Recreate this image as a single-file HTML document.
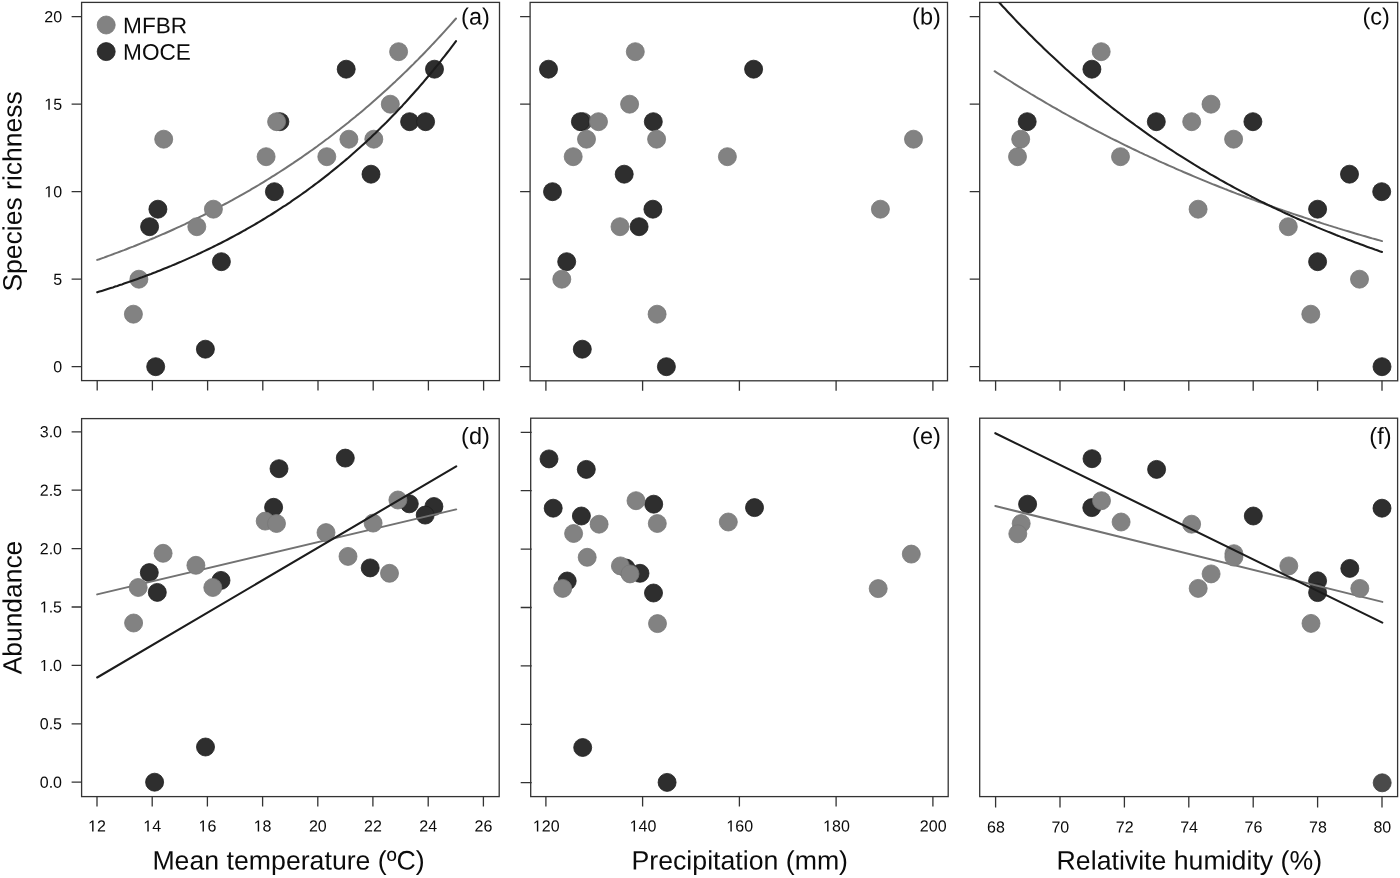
<!DOCTYPE html>
<html><head><meta charset="utf-8"><title>Figure</title>
<style>
html,body{margin:0;padding:0;background:#fff;}
body{width:1400px;height:878px;overflow:hidden;font-family:"Liberation Sans",sans-serif;}
svg{display:block;will-change:transform;}
</style></head><body>
<svg width="1400" height="878" viewBox="0 0 1400 878">
<rect width="1400" height="878" fill="#ffffff"/>
<rect x="81.6" y="2.4" width="417.9" height="378.2" fill="none" stroke="#333333" stroke-width="1.3"/>
<rect x="530.1" y="2.4" width="417.4" height="378.4" fill="none" stroke="#333333" stroke-width="1.3"/>
<rect x="979.7" y="2.4" width="418.0" height="378.4" fill="none" stroke="#333333" stroke-width="1.3"/>
<path d="M97.2 380.6v10M152.4 380.6v10M207.6 380.6v10M262.8 380.6v10M318.0 380.6v10M373.2 380.6v10M428.4 380.6v10M483.6 380.6v10" stroke="#333333" stroke-width="1.3" fill="none"/>
<path d="M545.9 380.8v10M642.6 380.8v10M739.4 380.8v10M836.1 380.8v10M932.9 380.8v10" stroke="#333333" stroke-width="1.3" fill="none"/>
<path d="M995.6 380.8v10M1060.0 380.8v10M1124.4 380.8v10M1188.8 380.8v10M1253.2 380.8v10M1317.6 380.8v10M1382.0 380.8v10" stroke="#333333" stroke-width="1.3" fill="none"/>
<rect x="81.6" y="418.6" width="417.6" height="378.0" fill="none" stroke="#333333" stroke-width="1.3"/>
<rect x="530.7" y="418.2" width="417.5" height="378.4" fill="none" stroke="#333333" stroke-width="1.3"/>
<rect x="979.7" y="418.2" width="417.9" height="378.4" fill="none" stroke="#333333" stroke-width="1.3"/>
<path d="M97.0 796.6v10M152.2 796.6v10M207.4 796.6v10M262.6 796.6v10M317.8 796.6v10M372.9 796.6v10M428.2 796.6v10M483.4 796.6v10" stroke="#333333" stroke-width="1.3" fill="none"/>
<path d="M545.9 796.6v10M642.6 796.6v10M739.4 796.6v10M836.1 796.6v10M932.9 796.6v10" stroke="#333333" stroke-width="1.3" fill="none"/>
<path d="M995.6 796.6v11M1060.0 796.6v11M1124.4 796.6v11M1188.8 796.6v11M1253.2 796.6v11M1317.6 796.6v11M1382.0 796.6v11" stroke="#333333" stroke-width="1.3" fill="none"/>
<path d="M81.6 366.7h-10M81.6 279.2h-10M81.6 191.7h-10M81.6 104.2h-10M81.6 16.7h-10" stroke="#333333" stroke-width="1.3" fill="none"/>
<path d="M530.1 366.7h-10M530.1 279.2h-10M530.1 191.7h-10M530.1 104.2h-10M530.1 16.7h-10" stroke="#333333" stroke-width="1.3" fill="none"/>
<path d="M979.7 366.7h-10M979.7 279.2h-10M979.7 191.7h-10M979.7 104.2h-10M979.7 16.7h-10" stroke="#333333" stroke-width="1.3" fill="none"/>
<path d="M81.6 782.2h-10M81.6 723.8h-10M81.6 665.4h-10M81.6 607.0h-10M81.6 548.6h-10M81.6 490.2h-10M81.6 431.8h-10" stroke="#333333" stroke-width="1.3" fill="none"/>
<path d="M531.7 782.7h-11.0M531.7 724.3h-11.0M531.7 665.9h-11.0M531.7 607.5h-11.0M531.7 549.1h-11.0M531.7 490.7h-11.0M531.7 432.3h-11.0" stroke="#333333" stroke-width="1.3" fill="none"/>
<text x="53.20" y="372.25" transform="rotate(0.03 53.2 372.2)" font-size="16.0" font-family="Liberation Sans, sans-serif" fill="#0b0b0b">0</text>
<text x="53.20" y="284.75" transform="rotate(0.03 53.2 284.8)" font-size="16.0" font-family="Liberation Sans, sans-serif" fill="#0b0b0b">5</text>
<path d="M515 0V1237L197 1010V1180L530 1409H696V0Z" transform="translate(44.30 197.25) scale(0.00781 -0.00781)" fill="#0b0b0b"/>
<text x="53.20" y="197.25" transform="rotate(0.03 53.2 197.2)" font-size="16.0" font-family="Liberation Sans, sans-serif" fill="#0b0b0b">0</text>
<path d="M515 0V1237L197 1010V1180L530 1409H696V0Z" transform="translate(44.30 109.75) scale(0.00781 -0.00781)" fill="#0b0b0b"/>
<text x="53.20" y="109.75" transform="rotate(0.03 53.2 109.7)" font-size="16.0" font-family="Liberation Sans, sans-serif" fill="#0b0b0b">5</text>
<text x="44.30" y="22.25" transform="rotate(0.03 44.3 22.2)" font-size="16.0" font-family="Liberation Sans, sans-serif" fill="#0b0b0b">2</text>
<text x="53.20" y="22.25" transform="rotate(0.03 53.2 22.2)" font-size="16.0" font-family="Liberation Sans, sans-serif" fill="#0b0b0b">0</text>
<text x="39.76" y="787.75" transform="rotate(0.03 39.8 787.8)" font-size="16.0" font-family="Liberation Sans, sans-serif" fill="#0b0b0b">0</text>
<text x="48.66" y="787.75" transform="rotate(0.03 48.7 787.8)" font-size="16.0" font-family="Liberation Sans, sans-serif" fill="#0b0b0b">.</text>
<text x="53.10" y="787.75" transform="rotate(0.03 53.1 787.8)" font-size="16.0" font-family="Liberation Sans, sans-serif" fill="#0b0b0b">0</text>
<text x="39.76" y="729.35" transform="rotate(0.03 39.8 729.4)" font-size="16.0" font-family="Liberation Sans, sans-serif" fill="#0b0b0b">0</text>
<text x="48.66" y="729.35" transform="rotate(0.03 48.7 729.4)" font-size="16.0" font-family="Liberation Sans, sans-serif" fill="#0b0b0b">.</text>
<text x="53.10" y="729.35" transform="rotate(0.03 53.1 729.4)" font-size="16.0" font-family="Liberation Sans, sans-serif" fill="#0b0b0b">5</text>
<path d="M515 0V1237L197 1010V1180L530 1409H696V0Z" transform="translate(39.76 670.95) scale(0.00781 -0.00781)" fill="#0b0b0b"/>
<text x="48.66" y="670.95" transform="rotate(0.03 48.7 671.0)" font-size="16.0" font-family="Liberation Sans, sans-serif" fill="#0b0b0b">.</text>
<text x="53.10" y="670.95" transform="rotate(0.03 53.1 671.0)" font-size="16.0" font-family="Liberation Sans, sans-serif" fill="#0b0b0b">0</text>
<path d="M515 0V1237L197 1010V1180L530 1409H696V0Z" transform="translate(39.76 612.55) scale(0.00781 -0.00781)" fill="#0b0b0b"/>
<text x="48.66" y="612.55" transform="rotate(0.03 48.7 612.5)" font-size="16.0" font-family="Liberation Sans, sans-serif" fill="#0b0b0b">.</text>
<text x="53.10" y="612.55" transform="rotate(0.03 53.1 612.5)" font-size="16.0" font-family="Liberation Sans, sans-serif" fill="#0b0b0b">5</text>
<text x="39.76" y="554.15" transform="rotate(0.03 39.8 554.1)" font-size="16.0" font-family="Liberation Sans, sans-serif" fill="#0b0b0b">2</text>
<text x="48.66" y="554.15" transform="rotate(0.03 48.7 554.1)" font-size="16.0" font-family="Liberation Sans, sans-serif" fill="#0b0b0b">.</text>
<text x="53.10" y="554.15" transform="rotate(0.03 53.1 554.1)" font-size="16.0" font-family="Liberation Sans, sans-serif" fill="#0b0b0b">0</text>
<text x="39.76" y="495.75" transform="rotate(0.03 39.8 495.8)" font-size="16.0" font-family="Liberation Sans, sans-serif" fill="#0b0b0b">2</text>
<text x="48.66" y="495.75" transform="rotate(0.03 48.7 495.8)" font-size="16.0" font-family="Liberation Sans, sans-serif" fill="#0b0b0b">.</text>
<text x="53.10" y="495.75" transform="rotate(0.03 53.1 495.8)" font-size="16.0" font-family="Liberation Sans, sans-serif" fill="#0b0b0b">5</text>
<text x="39.76" y="437.35" transform="rotate(0.03 39.8 437.4)" font-size="16.0" font-family="Liberation Sans, sans-serif" fill="#0b0b0b">3</text>
<text x="48.66" y="437.35" transform="rotate(0.03 48.7 437.4)" font-size="16.0" font-family="Liberation Sans, sans-serif" fill="#0b0b0b">.</text>
<text x="53.10" y="437.35" transform="rotate(0.03 53.1 437.4)" font-size="16.0" font-family="Liberation Sans, sans-serif" fill="#0b0b0b">0</text>
<path d="M515 0V1237L197 1010V1180L530 1409H696V0Z" transform="translate(88.10 831.60) scale(0.00781 -0.00781)" fill="#0b0b0b"/>
<text x="97.00" y="831.60" transform="rotate(0.03 97.0 831.6)" font-size="16.0" font-family="Liberation Sans, sans-serif" fill="#0b0b0b">2</text>
<path d="M515 0V1237L197 1010V1180L530 1409H696V0Z" transform="translate(143.30 831.60) scale(0.00781 -0.00781)" fill="#0b0b0b"/>
<text x="152.20" y="831.60" transform="rotate(0.03 152.2 831.6)" font-size="16.0" font-family="Liberation Sans, sans-serif" fill="#0b0b0b">4</text>
<path d="M515 0V1237L197 1010V1180L530 1409H696V0Z" transform="translate(198.50 831.60) scale(0.00781 -0.00781)" fill="#0b0b0b"/>
<text x="207.40" y="831.60" transform="rotate(0.03 207.4 831.6)" font-size="16.0" font-family="Liberation Sans, sans-serif" fill="#0b0b0b">6</text>
<path d="M515 0V1237L197 1010V1180L530 1409H696V0Z" transform="translate(253.70 831.60) scale(0.00781 -0.00781)" fill="#0b0b0b"/>
<text x="262.60" y="831.60" transform="rotate(0.03 262.6 831.6)" font-size="16.0" font-family="Liberation Sans, sans-serif" fill="#0b0b0b">8</text>
<text x="308.90" y="831.60" transform="rotate(0.03 308.9 831.6)" font-size="16.0" font-family="Liberation Sans, sans-serif" fill="#0b0b0b">2</text>
<text x="317.80" y="831.60" transform="rotate(0.03 317.8 831.6)" font-size="16.0" font-family="Liberation Sans, sans-serif" fill="#0b0b0b">0</text>
<text x="364.10" y="831.60" transform="rotate(0.03 364.1 831.6)" font-size="16.0" font-family="Liberation Sans, sans-serif" fill="#0b0b0b">2</text>
<text x="373.00" y="831.60" transform="rotate(0.03 373.0 831.6)" font-size="16.0" font-family="Liberation Sans, sans-serif" fill="#0b0b0b">2</text>
<text x="419.30" y="831.60" transform="rotate(0.03 419.3 831.6)" font-size="16.0" font-family="Liberation Sans, sans-serif" fill="#0b0b0b">2</text>
<text x="428.20" y="831.60" transform="rotate(0.03 428.2 831.6)" font-size="16.0" font-family="Liberation Sans, sans-serif" fill="#0b0b0b">4</text>
<text x="474.50" y="831.60" transform="rotate(0.03 474.5 831.6)" font-size="16.0" font-family="Liberation Sans, sans-serif" fill="#0b0b0b">2</text>
<text x="483.40" y="831.60" transform="rotate(0.03 483.4 831.6)" font-size="16.0" font-family="Liberation Sans, sans-serif" fill="#0b0b0b">6</text>
<path d="M515 0V1237L197 1010V1180L530 1409H696V0Z" transform="translate(532.85 831.60) scale(0.00781 -0.00781)" fill="#0b0b0b"/>
<text x="541.75" y="831.60" transform="rotate(0.03 541.8 831.6)" font-size="16.0" font-family="Liberation Sans, sans-serif" fill="#0b0b0b">2</text>
<text x="550.65" y="831.60" transform="rotate(0.03 550.6 831.6)" font-size="16.0" font-family="Liberation Sans, sans-serif" fill="#0b0b0b">0</text>
<path d="M515 0V1237L197 1010V1180L530 1409H696V0Z" transform="translate(629.60 831.60) scale(0.00781 -0.00781)" fill="#0b0b0b"/>
<text x="638.50" y="831.60" transform="rotate(0.03 638.5 831.6)" font-size="16.0" font-family="Liberation Sans, sans-serif" fill="#0b0b0b">4</text>
<text x="647.40" y="831.60" transform="rotate(0.03 647.4 831.6)" font-size="16.0" font-family="Liberation Sans, sans-serif" fill="#0b0b0b">0</text>
<path d="M515 0V1237L197 1010V1180L530 1409H696V0Z" transform="translate(726.35 831.60) scale(0.00781 -0.00781)" fill="#0b0b0b"/>
<text x="735.25" y="831.60" transform="rotate(0.03 735.3 831.6)" font-size="16.0" font-family="Liberation Sans, sans-serif" fill="#0b0b0b">6</text>
<text x="744.15" y="831.60" transform="rotate(0.03 744.1 831.6)" font-size="16.0" font-family="Liberation Sans, sans-serif" fill="#0b0b0b">0</text>
<path d="M515 0V1237L197 1010V1180L530 1409H696V0Z" transform="translate(823.10 831.60) scale(0.00781 -0.00781)" fill="#0b0b0b"/>
<text x="832.00" y="831.60" transform="rotate(0.03 832.0 831.6)" font-size="16.0" font-family="Liberation Sans, sans-serif" fill="#0b0b0b">8</text>
<text x="840.90" y="831.60" transform="rotate(0.03 840.9 831.6)" font-size="16.0" font-family="Liberation Sans, sans-serif" fill="#0b0b0b">0</text>
<text x="919.85" y="831.60" transform="rotate(0.03 919.9 831.6)" font-size="16.0" font-family="Liberation Sans, sans-serif" fill="#0b0b0b">2</text>
<text x="928.75" y="831.60" transform="rotate(0.03 928.8 831.6)" font-size="16.0" font-family="Liberation Sans, sans-serif" fill="#0b0b0b">0</text>
<text x="937.65" y="831.60" transform="rotate(0.03 937.6 831.6)" font-size="16.0" font-family="Liberation Sans, sans-serif" fill="#0b0b0b">0</text>
<text x="987.00" y="832.50" transform="rotate(0.03 987.0 832.5)" font-size="16.0" font-family="Liberation Sans, sans-serif" fill="#0b0b0b">6</text>
<text x="995.90" y="832.50" transform="rotate(0.03 995.9 832.5)" font-size="16.0" font-family="Liberation Sans, sans-serif" fill="#0b0b0b">8</text>
<text x="1051.40" y="832.50" transform="rotate(0.03 1051.4 832.5)" font-size="16.0" font-family="Liberation Sans, sans-serif" fill="#0b0b0b">7</text>
<text x="1060.30" y="832.50" transform="rotate(0.03 1060.3 832.5)" font-size="16.0" font-family="Liberation Sans, sans-serif" fill="#0b0b0b">0</text>
<text x="1115.80" y="832.50" transform="rotate(0.03 1115.8 832.5)" font-size="16.0" font-family="Liberation Sans, sans-serif" fill="#0b0b0b">7</text>
<text x="1124.70" y="832.50" transform="rotate(0.03 1124.7 832.5)" font-size="16.0" font-family="Liberation Sans, sans-serif" fill="#0b0b0b">2</text>
<text x="1180.20" y="832.50" transform="rotate(0.03 1180.2 832.5)" font-size="16.0" font-family="Liberation Sans, sans-serif" fill="#0b0b0b">7</text>
<text x="1189.10" y="832.50" transform="rotate(0.03 1189.1 832.5)" font-size="16.0" font-family="Liberation Sans, sans-serif" fill="#0b0b0b">4</text>
<text x="1244.60" y="832.50" transform="rotate(0.03 1244.6 832.5)" font-size="16.0" font-family="Liberation Sans, sans-serif" fill="#0b0b0b">7</text>
<text x="1253.50" y="832.50" transform="rotate(0.03 1253.5 832.5)" font-size="16.0" font-family="Liberation Sans, sans-serif" fill="#0b0b0b">6</text>
<text x="1309.00" y="832.50" transform="rotate(0.03 1309.0 832.5)" font-size="16.0" font-family="Liberation Sans, sans-serif" fill="#0b0b0b">7</text>
<text x="1317.90" y="832.50" transform="rotate(0.03 1317.9 832.5)" font-size="16.0" font-family="Liberation Sans, sans-serif" fill="#0b0b0b">8</text>
<text x="1373.40" y="832.50" transform="rotate(0.03 1373.4 832.5)" font-size="16.0" font-family="Liberation Sans, sans-serif" fill="#0b0b0b">8</text>
<text x="1382.30" y="832.50" transform="rotate(0.03 1382.3 832.5)" font-size="16.0" font-family="Liberation Sans, sans-serif" fill="#0b0b0b">0</text>
<circle cx="149.6" cy="226.7" r="9.0" fill="#2e2e2e" stroke="#1f1f1f" stroke-width="0.8"/>
<circle cx="155.7" cy="366.7" r="9.0" fill="#2e2e2e" stroke="#1f1f1f" stroke-width="0.8"/>
<circle cx="157.9" cy="209.2" r="9.0" fill="#2e2e2e" stroke="#1f1f1f" stroke-width="0.8"/>
<circle cx="205.4" cy="349.2" r="9.0" fill="#2e2e2e" stroke="#1f1f1f" stroke-width="0.8"/>
<circle cx="221.4" cy="261.7" r="9.0" fill="#2e2e2e" stroke="#1f1f1f" stroke-width="0.8"/>
<circle cx="274.4" cy="191.7" r="9.0" fill="#2e2e2e" stroke="#1f1f1f" stroke-width="0.8"/>
<circle cx="279.9" cy="121.7" r="9.0" fill="#2e2e2e" stroke="#1f1f1f" stroke-width="0.8"/>
<circle cx="346.2" cy="69.2" r="9.0" fill="#2e2e2e" stroke="#1f1f1f" stroke-width="0.8"/>
<circle cx="371.0" cy="174.2" r="9.0" fill="#2e2e2e" stroke="#1f1f1f" stroke-width="0.8"/>
<circle cx="409.6" cy="121.7" r="9.0" fill="#2e2e2e" stroke="#1f1f1f" stroke-width="0.8"/>
<circle cx="425.6" cy="121.7" r="9.0" fill="#2e2e2e" stroke="#1f1f1f" stroke-width="0.8"/>
<circle cx="434.5" cy="69.2" r="9.0" fill="#2e2e2e" stroke="#1f1f1f" stroke-width="0.8"/>
<path d="M97.2 259.9 L99.4 259.2 L101.7 258.4 L103.9 257.6 L106.2 256.7 L108.4 255.9 L110.7 255.1 L112.9 254.3 L115.1 253.4 L117.4 252.6 L119.6 251.8 L121.9 250.9 L124.1 250.1 L126.4 249.2 L128.6 248.3 L130.8 247.4 L133.1 246.6 L135.3 245.7 L137.6 244.8 L139.8 243.9 L142.1 242.9 L144.3 242.0 L146.5 241.1 L148.8 240.2 L151.0 239.2 L153.3 238.3 L155.5 237.3 L157.7 236.4 L160.0 235.4 L162.2 234.4 L164.5 233.5 L166.7 232.5 L169.0 231.5 L171.2 230.5 L173.4 229.5 L175.7 228.4 L177.9 227.4 L180.2 226.4 L182.4 225.3 L184.7 224.3 L186.9 223.2 L189.1 222.2 L191.4 221.1 L193.6 220.0 L195.9 218.9 L198.1 217.8 L200.4 216.7 L202.6 215.6 L204.8 214.5 L207.1 213.4 L209.3 212.2 L211.6 211.1 L213.8 209.9 L216.1 208.8 L218.3 207.6 L220.5 206.4 L222.8 205.2 L225.0 204.0 L227.3 202.8 L229.5 201.6 L231.8 200.4 L234.0 199.1 L236.2 197.9 L238.5 196.7 L240.7 195.4 L243.0 194.1 L245.2 192.8 L247.4 191.6 L249.7 190.3 L251.9 188.9 L254.2 187.6 L256.4 186.3 L258.7 185.0 L260.9 183.6 L263.1 182.3 L265.4 180.9 L267.6 179.5 L269.9 178.1 L272.1 176.7 L274.4 175.3 L276.6 173.9 L278.8 172.5 L281.1 171.0 L283.3 169.6 L285.6 168.1 L287.8 166.6 L290.1 165.1 L292.3 163.7 L294.5 162.1 L296.8 160.6 L299.0 159.1 L301.3 157.6 L303.5 156.0 L305.8 154.4 L308.0 152.9 L310.2 151.3 L312.5 149.7 L314.7 148.1 L317.0 146.5 L319.2 144.8 L321.4 143.2 L323.7 141.5 L325.9 139.8 L328.2 138.2 L330.4 136.5 L332.7 134.8 L334.9 133.0 L337.1 131.3 L339.4 129.6 L341.6 127.8 L343.9 126.0 L346.1 124.2 L348.4 122.5 L350.6 120.6 L352.8 118.8 L355.1 117.0 L357.3 115.1 L359.6 113.3 L361.8 111.4 L364.1 109.5 L366.3 107.6 L368.5 105.7 L370.8 103.7 L373.0 101.8 L375.3 99.8 L377.5 97.8 L379.8 95.8 L382.0 93.8 L384.2 91.8 L386.5 89.8 L388.7 87.7 L391.0 85.6 L393.2 83.5 L395.5 81.4 L397.7 79.3 L399.9 77.2 L402.2 75.0 L404.4 72.9 L406.7 70.7 L408.9 68.5 L411.1 66.3 L413.4 64.1 L415.6 61.8 L417.9 59.6 L420.1 57.3 L422.4 55.0 L424.6 52.7 L426.8 50.4 L429.1 48.0 L431.3 45.6 L433.6 43.3 L435.8 40.9 L438.1 38.4 L440.3 36.0 L442.5 33.6 L444.8 31.1 L447.0 28.6 L449.3 26.1 L451.5 23.6 L453.8 21.0 L456.0 18.5" fill="none" stroke="#727272" stroke-width="2.0" stroke-linecap="round" stroke-linejoin="round"/>
<circle cx="133.4" cy="314.2" r="9.0" fill="#828282" stroke="#777777" stroke-width="0.8"/>
<circle cx="138.9" cy="279.2" r="9.0" fill="#828282" stroke="#777777" stroke-width="0.8"/>
<circle cx="163.7" cy="139.2" r="9.0" fill="#828282" stroke="#777777" stroke-width="0.8"/>
<circle cx="196.8" cy="226.7" r="9.0" fill="#828282" stroke="#777777" stroke-width="0.8"/>
<circle cx="213.4" cy="209.2" r="9.0" fill="#828282" stroke="#777777" stroke-width="0.8"/>
<circle cx="266.1" cy="156.7" r="9.0" fill="#828282" stroke="#777777" stroke-width="0.8"/>
<circle cx="276.6" cy="121.7" r="9.0" fill="#828282" stroke="#777777" stroke-width="0.8"/>
<circle cx="326.8" cy="156.7" r="9.0" fill="#828282" stroke="#777777" stroke-width="0.8"/>
<circle cx="348.9" cy="139.2" r="9.0" fill="#828282" stroke="#777777" stroke-width="0.8"/>
<circle cx="373.8" cy="139.2" r="9.0" fill="#828282" stroke="#777777" stroke-width="0.8"/>
<circle cx="390.3" cy="104.2" r="9.0" fill="#828282" stroke="#777777" stroke-width="0.8"/>
<circle cx="398.6" cy="51.7" r="9.0" fill="#828282" stroke="#777777" stroke-width="0.8"/>
<path d="M97.2 292.3 L99.4 291.6 L101.7 290.9 L103.9 290.2 L106.2 289.5 L108.4 288.8 L110.7 288.1 L112.9 287.4 L115.1 286.6 L117.4 285.9 L119.6 285.1 L121.9 284.4 L124.1 283.6 L126.4 282.8 L128.6 282.1 L130.8 281.3 L133.1 280.5 L135.3 279.7 L137.6 278.9 L139.8 278.1 L142.1 277.3 L144.3 276.4 L146.5 275.6 L148.8 274.7 L151.0 273.9 L153.3 273.0 L155.5 272.2 L157.7 271.3 L160.0 270.4 L162.2 269.5 L164.5 268.6 L166.7 267.7 L169.0 266.8 L171.2 265.9 L173.4 264.9 L175.7 264.0 L177.9 263.0 L180.2 262.1 L182.4 261.1 L184.7 260.1 L186.9 259.1 L189.1 258.1 L191.4 257.1 L193.6 256.1 L195.9 255.1 L198.1 254.0 L200.4 253.0 L202.6 251.9 L204.8 250.9 L207.1 249.8 L209.3 248.7 L211.6 247.6 L213.8 246.5 L216.1 245.4 L218.3 244.3 L220.5 243.2 L222.8 242.0 L225.0 240.9 L227.3 239.7 L229.5 238.5 L231.8 237.3 L234.0 236.1 L236.2 234.9 L238.5 233.7 L240.7 232.5 L243.0 231.2 L245.2 230.0 L247.4 228.7 L249.7 227.4 L251.9 226.1 L254.2 224.8 L256.4 223.5 L258.7 222.2 L260.9 220.8 L263.1 219.5 L265.4 218.1 L267.6 216.7 L269.9 215.4 L272.1 214.0 L274.4 212.5 L276.6 211.1 L278.8 209.7 L281.1 208.2 L283.3 206.7 L285.6 205.3 L287.8 203.8 L290.1 202.3 L292.3 200.7 L294.5 199.2 L296.8 197.6 L299.0 196.1 L301.3 194.5 L303.5 192.9 L305.8 191.3 L308.0 189.7 L310.2 188.0 L312.5 186.4 L314.7 184.7 L317.0 183.0 L319.2 181.3 L321.4 179.6 L323.7 177.8 L325.9 176.1 L328.2 174.3 L330.4 172.5 L332.7 170.7 L334.9 168.9 L337.1 167.1 L339.4 165.2 L341.6 163.4 L343.9 161.5 L346.1 159.6 L348.4 157.7 L350.6 155.7 L352.8 153.8 L355.1 151.8 L357.3 149.8 L359.6 147.8 L361.8 145.8 L364.1 143.7 L366.3 141.7 L368.5 139.6 L370.8 137.5 L373.0 135.3 L375.3 133.2 L377.5 131.0 L379.8 128.8 L382.0 126.6 L384.2 124.4 L386.5 122.2 L388.7 119.9 L391.0 117.6 L393.2 115.3 L395.5 113.0 L397.7 110.6 L399.9 108.3 L402.2 105.9 L404.4 103.4 L406.7 101.0 L408.9 98.5 L411.1 96.0 L413.4 93.5 L415.6 91.0 L417.9 88.5 L420.1 85.9 L422.4 83.3 L424.6 80.6 L426.8 78.0 L429.1 75.3 L431.3 72.6 L433.6 69.9 L435.8 67.1 L438.1 64.4 L440.3 61.6 L442.5 58.7 L444.8 55.9 L447.0 53.0 L449.3 50.1 L451.5 47.2 L453.8 44.2 L456.0 41.2" fill="none" stroke="#1c1c1c" stroke-width="2.1" stroke-linecap="round" stroke-linejoin="round"/>
<circle cx="548.5" cy="69.2" r="9.0" fill="#2e2e2e" stroke="#1f1f1f" stroke-width="0.8"/>
<circle cx="753.6" cy="69.2" r="9.0" fill="#2e2e2e" stroke="#1f1f1f" stroke-width="0.8"/>
<circle cx="583.0" cy="121.7" r="9.0" fill="#4a4a4a" stroke="#3e3e3e" stroke-width="0.8"/>
<circle cx="580.4" cy="121.7" r="9.0" fill="#2e2e2e" stroke="#1f1f1f" stroke-width="0.8"/>
<circle cx="653.3" cy="121.7" r="9.0" fill="#2e2e2e" stroke="#1f1f1f" stroke-width="0.8"/>
<circle cx="624.2" cy="174.2" r="9.0" fill="#2e2e2e" stroke="#1f1f1f" stroke-width="0.8"/>
<circle cx="552.5" cy="191.7" r="9.0" fill="#2e2e2e" stroke="#1f1f1f" stroke-width="0.8"/>
<circle cx="652.9" cy="209.2" r="9.0" fill="#2e2e2e" stroke="#1f1f1f" stroke-width="0.8"/>
<circle cx="639.1" cy="226.7" r="9.0" fill="#2e2e2e" stroke="#1f1f1f" stroke-width="0.8"/>
<circle cx="566.7" cy="261.7" r="9.0" fill="#2e2e2e" stroke="#1f1f1f" stroke-width="0.8"/>
<circle cx="582.3" cy="349.2" r="9.0" fill="#2e2e2e" stroke="#1f1f1f" stroke-width="0.8"/>
<circle cx="666.4" cy="366.7" r="9.0" fill="#2e2e2e" stroke="#1f1f1f" stroke-width="0.8"/>
<circle cx="635.3" cy="51.7" r="9.0" fill="#828282" stroke="#777777" stroke-width="0.8"/>
<circle cx="629.6" cy="104.2" r="9.0" fill="#828282" stroke="#777777" stroke-width="0.8"/>
<circle cx="598.5" cy="121.7" r="9.0" fill="#828282" stroke="#777777" stroke-width="0.8"/>
<circle cx="586.5" cy="139.2" r="9.0" fill="#828282" stroke="#777777" stroke-width="0.8"/>
<circle cx="656.6" cy="139.2" r="9.0" fill="#828282" stroke="#777777" stroke-width="0.8"/>
<circle cx="913.5" cy="139.2" r="9.0" fill="#828282" stroke="#777777" stroke-width="0.8"/>
<circle cx="573.2" cy="156.7" r="9.0" fill="#828282" stroke="#777777" stroke-width="0.8"/>
<circle cx="727.4" cy="156.7" r="9.0" fill="#828282" stroke="#777777" stroke-width="0.8"/>
<circle cx="880.4" cy="209.2" r="9.0" fill="#828282" stroke="#777777" stroke-width="0.8"/>
<circle cx="620.0" cy="226.7" r="9.0" fill="#828282" stroke="#777777" stroke-width="0.8"/>
<circle cx="561.8" cy="279.2" r="9.0" fill="#828282" stroke="#777777" stroke-width="0.8"/>
<circle cx="657.1" cy="314.2" r="9.0" fill="#828282" stroke="#777777" stroke-width="0.8"/>
<circle cx="1091.9" cy="69.2" r="9.0" fill="#2e2e2e" stroke="#1f1f1f" stroke-width="0.8"/>
<circle cx="1027.2" cy="121.7" r="9.0" fill="#2e2e2e" stroke="#1f1f1f" stroke-width="0.8"/>
<circle cx="1156.3" cy="121.7" r="9.0" fill="#2e2e2e" stroke="#1f1f1f" stroke-width="0.8"/>
<circle cx="1252.9" cy="121.7" r="9.0" fill="#2e2e2e" stroke="#1f1f1f" stroke-width="0.8"/>
<circle cx="1349.5" cy="174.2" r="9.0" fill="#2e2e2e" stroke="#1f1f1f" stroke-width="0.8"/>
<circle cx="1381.7" cy="191.7" r="9.0" fill="#2e2e2e" stroke="#1f1f1f" stroke-width="0.8"/>
<circle cx="1317.6" cy="209.2" r="9.0" fill="#2e2e2e" stroke="#1f1f1f" stroke-width="0.8"/>
<circle cx="1317.6" cy="261.7" r="9.0" fill="#2e2e2e" stroke="#1f1f1f" stroke-width="0.8"/>
<circle cx="1382.0" cy="366.7" r="9.0" fill="#2e2e2e" stroke="#1f1f1f" stroke-width="0.8"/>
<path d="M994.6 71.2 L997.1 72.8 L999.5 74.3 L1001.9 75.9 L1004.3 77.4 L1006.7 79.0 L1009.2 80.5 L1011.6 82.0 L1014.0 83.6 L1016.4 85.1 L1018.8 86.6 L1021.3 88.1 L1023.7 89.6 L1026.1 91.0 L1028.5 92.5 L1030.9 94.0 L1033.4 95.4 L1035.8 96.9 L1038.2 98.3 L1040.6 99.7 L1043.1 101.2 L1045.5 102.6 L1047.9 104.0 L1050.3 105.4 L1052.7 106.8 L1055.2 108.2 L1057.6 109.5 L1060.0 110.9 L1062.4 112.3 L1064.8 113.6 L1067.3 115.0 L1069.7 116.3 L1072.1 117.7 L1074.5 119.0 L1076.9 120.3 L1079.4 121.6 L1081.8 122.9 L1084.2 124.2 L1086.6 125.5 L1089.1 126.8 L1091.5 128.1 L1093.9 129.4 L1096.3 130.6 L1098.7 131.9 L1101.2 133.1 L1103.6 134.4 L1106.0 135.6 L1108.4 136.8 L1110.8 138.1 L1113.3 139.3 L1115.7 140.5 L1118.1 141.7 L1120.5 142.9 L1122.9 144.1 L1125.4 145.3 L1127.8 146.5 L1130.2 147.6 L1132.6 148.8 L1135.1 150.0 L1137.5 151.1 L1139.9 152.3 L1142.3 153.4 L1144.7 154.6 L1147.2 155.7 L1149.6 156.8 L1152.0 157.9 L1154.4 159.0 L1156.8 160.2 L1159.3 161.3 L1161.7 162.4 L1164.1 163.4 L1166.5 164.5 L1168.9 165.6 L1171.4 166.7 L1173.8 167.7 L1176.2 168.8 L1178.6 169.9 L1181.1 170.9 L1183.5 172.0 L1185.9 173.0 L1188.3 174.0 L1190.7 175.0 L1193.2 176.1 L1195.6 177.1 L1198.0 178.1 L1200.4 179.1 L1202.8 180.1 L1205.3 181.1 L1207.7 182.1 L1210.1 183.1 L1212.5 184.1 L1214.9 185.0 L1217.4 186.0 L1219.8 187.0 L1222.2 187.9 L1224.6 188.9 L1227.1 189.8 L1229.5 190.8 L1231.9 191.7 L1234.3 192.6 L1236.7 193.6 L1239.2 194.5 L1241.6 195.4 L1244.0 196.3 L1246.4 197.2 L1248.8 198.1 L1251.3 199.0 L1253.7 199.9 L1256.1 200.8 L1258.5 201.7 L1260.9 202.6 L1263.4 203.4 L1265.8 204.3 L1268.2 205.2 L1270.6 206.0 L1273.1 206.9 L1275.5 207.8 L1277.9 208.6 L1280.3 209.4 L1282.7 210.3 L1285.2 211.1 L1287.6 211.9 L1290.0 212.8 L1292.4 213.6 L1294.8 214.4 L1297.3 215.2 L1299.7 216.0 L1302.1 216.8 L1304.5 217.6 L1306.9 218.4 L1309.4 219.2 L1311.8 220.0 L1314.2 220.8 L1316.6 221.6 L1319.1 222.3 L1321.5 223.1 L1323.9 223.9 L1326.3 224.6 L1328.7 225.4 L1331.2 226.1 L1333.6 226.9 L1336.0 227.6 L1338.4 228.4 L1340.8 229.1 L1343.3 229.9 L1345.7 230.6 L1348.1 231.3 L1350.5 232.0 L1352.9 232.7 L1355.4 233.5 L1357.8 234.2 L1360.2 234.9 L1362.6 235.6 L1365.1 236.3 L1367.5 237.0 L1369.9 237.7 L1372.3 238.4 L1374.7 239.0 L1377.2 239.7 L1379.6 240.4 L1382.0 241.1" fill="none" stroke="#727272" stroke-width="2.0" stroke-linecap="round" stroke-linejoin="round"/>
<circle cx="1101.2" cy="51.7" r="9.0" fill="#828282" stroke="#777777" stroke-width="0.8"/>
<circle cx="1020.7" cy="139.2" r="9.0" fill="#828282" stroke="#777777" stroke-width="0.8"/>
<circle cx="1017.5" cy="156.7" r="9.0" fill="#828282" stroke="#777777" stroke-width="0.8"/>
<circle cx="1120.5" cy="156.7" r="9.0" fill="#828282" stroke="#777777" stroke-width="0.8"/>
<circle cx="1191.7" cy="121.7" r="9.0" fill="#828282" stroke="#777777" stroke-width="0.8"/>
<circle cx="1211.0" cy="104.2" r="9.0" fill="#828282" stroke="#777777" stroke-width="0.8"/>
<circle cx="1233.6" cy="139.2" r="9.0" fill="#828282" stroke="#777777" stroke-width="0.8"/>
<circle cx="1198.1" cy="209.2" r="9.0" fill="#828282" stroke="#777777" stroke-width="0.8"/>
<circle cx="1288.3" cy="226.7" r="9.0" fill="#828282" stroke="#777777" stroke-width="0.8"/>
<circle cx="1359.5" cy="279.2" r="9.0" fill="#828282" stroke="#777777" stroke-width="0.8"/>
<circle cx="1310.8" cy="314.2" r="9.0" fill="#828282" stroke="#777777" stroke-width="0.8"/>
<clipPath id="cc"><rect x="979.8" y="2.4" width="417.9" height="378.3"/></clipPath>
<path d="M995.6 -1.5 L998.0 1.2 L1000.4 3.8 L1002.8 6.5 L1005.3 9.1 L1007.7 11.7 L1010.1 14.3 L1012.5 16.8 L1014.9 19.4 L1017.3 21.9 L1019.8 24.4 L1022.2 26.9 L1024.6 29.3 L1027.0 31.8 L1029.4 34.2 L1031.8 36.6 L1034.2 39.0 L1036.7 41.4 L1039.1 43.8 L1041.5 46.1 L1043.9 48.5 L1046.3 50.8 L1048.7 53.1 L1051.1 55.3 L1053.6 57.6 L1056.0 59.8 L1058.4 62.1 L1060.8 64.3 L1063.2 66.5 L1065.6 68.7 L1068.0 70.8 L1070.5 73.0 L1072.9 75.1 L1075.3 77.2 L1077.7 79.3 L1080.1 81.4 L1082.5 83.5 L1085.0 85.5 L1087.4 87.6 L1089.8 89.6 L1092.2 91.6 L1094.6 93.6 L1097.0 95.6 L1099.4 97.6 L1101.9 99.5 L1104.3 101.5 L1106.7 103.4 L1109.1 105.3 L1111.5 107.2 L1113.9 109.1 L1116.4 111.0 L1118.8 112.8 L1121.2 114.7 L1123.6 116.5 L1126.0 118.3 L1128.4 120.1 L1130.8 121.9 L1133.3 123.7 L1135.7 125.5 L1138.1 127.2 L1140.5 128.9 L1142.9 130.7 L1145.3 132.4 L1147.7 134.1 L1150.2 135.8 L1152.6 137.5 L1155.0 139.1 L1157.4 140.8 L1159.8 142.4 L1162.2 144.0 L1164.7 145.7 L1167.1 147.3 L1169.5 148.9 L1171.9 150.4 L1174.3 152.0 L1176.7 153.6 L1179.1 155.1 L1181.6 156.7 L1184.0 158.2 L1186.4 159.7 L1188.8 161.2 L1191.2 162.7 L1193.6 164.2 L1196.0 165.6 L1198.5 167.1 L1200.9 168.6 L1203.3 170.0 L1205.7 171.4 L1208.1 172.8 L1210.5 174.3 L1213.0 175.7 L1215.4 177.0 L1217.8 178.4 L1220.2 179.8 L1222.6 181.1 L1225.0 182.5 L1227.4 183.8 L1229.9 185.2 L1232.3 186.5 L1234.7 187.8 L1237.1 189.1 L1239.5 190.4 L1241.9 191.7 L1244.3 192.9 L1246.8 194.2 L1249.2 195.4 L1251.6 196.7 L1254.0 197.9 L1256.4 199.1 L1258.8 200.4 L1261.2 201.6 L1263.7 202.8 L1266.1 204.0 L1268.5 205.1 L1270.9 206.3 L1273.3 207.5 L1275.7 208.6 L1278.2 209.8 L1280.6 210.9 L1283.0 212.1 L1285.4 213.2 L1287.8 214.3 L1290.2 215.4 L1292.6 216.5 L1295.1 217.6 L1297.5 218.7 L1299.9 219.8 L1302.3 220.8 L1304.7 221.9 L1307.1 222.9 L1309.6 224.0 L1312.0 225.0 L1314.4 226.0 L1316.8 227.1 L1319.2 228.1 L1321.6 229.1 L1324.0 230.1 L1326.5 231.1 L1328.9 232.1 L1331.3 233.0 L1333.7 234.0 L1336.1 235.0 L1338.5 235.9 L1340.9 236.9 L1343.4 237.8 L1345.8 238.8 L1348.2 239.7 L1350.6 240.6 L1353.0 241.5 L1355.4 242.4 L1357.9 243.3 L1360.3 244.2 L1362.7 245.1 L1365.1 246.0 L1367.5 246.9 L1369.9 247.8 L1372.3 248.6 L1374.8 249.5 L1377.2 250.3 L1379.6 251.2 L1382.0 252.0" fill="none" stroke="#1c1c1c" stroke-width="2.1" stroke-linecap="round" stroke-linejoin="round" clip-path="url(#cc)"/>
<circle cx="279.0" cy="468.7" r="9.0" fill="#2e2e2e" stroke="#1f1f1f" stroke-width="0.8"/>
<circle cx="273.6" cy="507.3" r="9.0" fill="#2e2e2e" stroke="#1f1f1f" stroke-width="0.8"/>
<circle cx="149.3" cy="572.6" r="9.0" fill="#2e2e2e" stroke="#1f1f1f" stroke-width="0.8"/>
<circle cx="221.0" cy="580.4" r="9.0" fill="#2e2e2e" stroke="#1f1f1f" stroke-width="0.8"/>
<circle cx="157.3" cy="592.4" r="9.0" fill="#2e2e2e" stroke="#1f1f1f" stroke-width="0.8"/>
<circle cx="345.3" cy="458.1" r="9.0" fill="#2e2e2e" stroke="#1f1f1f" stroke-width="0.8"/>
<circle cx="409.3" cy="503.8" r="9.0" fill="#2e2e2e" stroke="#1f1f1f" stroke-width="0.8"/>
<circle cx="433.9" cy="506.5" r="9.0" fill="#2e2e2e" stroke="#1f1f1f" stroke-width="0.8"/>
<circle cx="425.2" cy="515.1" r="9.0" fill="#2e2e2e" stroke="#1f1f1f" stroke-width="0.8"/>
<circle cx="370.2" cy="567.9" r="9.0" fill="#2e2e2e" stroke="#1f1f1f" stroke-width="0.8"/>
<circle cx="205.5" cy="747.0" r="9.0" fill="#2e2e2e" stroke="#1f1f1f" stroke-width="0.8"/>
<circle cx="154.6" cy="782.2" r="9.0" fill="#2e2e2e" stroke="#1f1f1f" stroke-width="0.8"/>
<path d="M97.2 594.4L456.2 509.4" stroke="#727272" stroke-width="2.0" stroke-linecap="round"/>
<circle cx="265.2" cy="521.1" r="9.0" fill="#828282" stroke="#777777" stroke-width="0.8"/>
<circle cx="276.5" cy="523.5" r="9.0" fill="#828282" stroke="#777777" stroke-width="0.8"/>
<circle cx="163.1" cy="553.3" r="9.0" fill="#828282" stroke="#777777" stroke-width="0.8"/>
<circle cx="195.9" cy="565.3" r="9.0" fill="#828282" stroke="#777777" stroke-width="0.8"/>
<circle cx="138.2" cy="587.5" r="9.0" fill="#828282" stroke="#777777" stroke-width="0.8"/>
<circle cx="212.8" cy="587.5" r="9.0" fill="#828282" stroke="#777777" stroke-width="0.8"/>
<circle cx="397.9" cy="500.0" r="9.0" fill="#828282" stroke="#777777" stroke-width="0.8"/>
<circle cx="373.1" cy="523.1" r="9.0" fill="#828282" stroke="#777777" stroke-width="0.8"/>
<circle cx="326.0" cy="532.6" r="9.0" fill="#828282" stroke="#777777" stroke-width="0.8"/>
<circle cx="348.0" cy="556.4" r="9.0" fill="#828282" stroke="#777777" stroke-width="0.8"/>
<circle cx="389.5" cy="573.3" r="9.0" fill="#828282" stroke="#777777" stroke-width="0.8"/>
<circle cx="133.6" cy="623.0" r="9.0" fill="#828282" stroke="#777777" stroke-width="0.8"/>
<path d="M97.2 677.5L456.2 466.4" stroke="#1c1c1c" stroke-width="2.1" stroke-linecap="round"/>
<circle cx="549.0" cy="458.9" r="9.0" fill="#2e2e2e" stroke="#1f1f1f" stroke-width="0.8"/>
<circle cx="586.3" cy="469.4" r="9.0" fill="#2e2e2e" stroke="#1f1f1f" stroke-width="0.8"/>
<circle cx="653.7" cy="504.2" r="9.0" fill="#2e2e2e" stroke="#1f1f1f" stroke-width="0.8"/>
<circle cx="553.2" cy="508.2" r="9.0" fill="#2e2e2e" stroke="#1f1f1f" stroke-width="0.8"/>
<circle cx="581.4" cy="516.0" r="9.0" fill="#2e2e2e" stroke="#1f1f1f" stroke-width="0.8"/>
<circle cx="626.0" cy="568.0" r="9.0" fill="#2e2e2e" stroke="#1f1f1f" stroke-width="0.8"/>
<circle cx="640.0" cy="573.3" r="9.0" fill="#2e2e2e" stroke="#1f1f1f" stroke-width="0.8"/>
<circle cx="567.2" cy="581.0" r="9.0" fill="#2e2e2e" stroke="#1f1f1f" stroke-width="0.8"/>
<circle cx="653.5" cy="593.0" r="9.0" fill="#2e2e2e" stroke="#1f1f1f" stroke-width="0.8"/>
<circle cx="754.5" cy="507.6" r="9.0" fill="#2e2e2e" stroke="#1f1f1f" stroke-width="0.8"/>
<circle cx="582.7" cy="747.5" r="9.0" fill="#2e2e2e" stroke="#1f1f1f" stroke-width="0.8"/>
<circle cx="667.1" cy="782.4" r="9.0" fill="#2e2e2e" stroke="#1f1f1f" stroke-width="0.8"/>
<circle cx="636.0" cy="500.7" r="9.0" fill="#828282" stroke="#777777" stroke-width="0.8"/>
<circle cx="599.1" cy="524.2" r="9.0" fill="#828282" stroke="#777777" stroke-width="0.8"/>
<circle cx="657.3" cy="523.5" r="9.0" fill="#828282" stroke="#777777" stroke-width="0.8"/>
<circle cx="728.3" cy="522.0" r="9.0" fill="#828282" stroke="#777777" stroke-width="0.8"/>
<circle cx="573.6" cy="533.5" r="9.0" fill="#828282" stroke="#777777" stroke-width="0.8"/>
<circle cx="587.2" cy="557.3" r="9.0" fill="#828282" stroke="#777777" stroke-width="0.8"/>
<circle cx="620.4" cy="565.9" r="9.0" fill="#828282" stroke="#777777" stroke-width="0.8"/>
<circle cx="630.0" cy="573.9" r="9.0" fill="#828282" stroke="#777777" stroke-width="0.8"/>
<circle cx="562.7" cy="588.4" r="9.0" fill="#828282" stroke="#777777" stroke-width="0.8"/>
<circle cx="657.5" cy="623.6" r="9.0" fill="#828282" stroke="#777777" stroke-width="0.8"/>
<circle cx="911.3" cy="554.1" r="9.0" fill="#828282" stroke="#777777" stroke-width="0.8"/>
<circle cx="878.2" cy="588.6" r="9.0" fill="#828282" stroke="#777777" stroke-width="0.8"/>
<circle cx="1092.0" cy="458.7" r="9.0" fill="#2e2e2e" stroke="#1f1f1f" stroke-width="0.8"/>
<circle cx="1156.6" cy="469.4" r="9.0" fill="#2e2e2e" stroke="#1f1f1f" stroke-width="0.8"/>
<circle cx="1027.6" cy="504.2" r="9.0" fill="#2e2e2e" stroke="#1f1f1f" stroke-width="0.8"/>
<circle cx="1091.8" cy="507.6" r="9.0" fill="#2e2e2e" stroke="#1f1f1f" stroke-width="0.8"/>
<circle cx="1382.0" cy="508.2" r="9.0" fill="#2e2e2e" stroke="#1f1f1f" stroke-width="0.8"/>
<circle cx="1253.3" cy="516.0" r="9.0" fill="#2e2e2e" stroke="#1f1f1f" stroke-width="0.8"/>
<circle cx="1349.8" cy="568.4" r="9.0" fill="#2e2e2e" stroke="#1f1f1f" stroke-width="0.8"/>
<circle cx="1317.6" cy="580.8" r="9.0" fill="#2e2e2e" stroke="#1f1f1f" stroke-width="0.8"/>
<circle cx="1317.6" cy="592.6" r="9.0" fill="#2e2e2e" stroke="#1f1f1f" stroke-width="0.8"/>
<circle cx="1382.2" cy="782.8" r="9.0" fill="#4a4a4a" stroke="#3e3e3e" stroke-width="0.8"/>
<path d="M995.3 506L1382.3 601.9" stroke="#727272" stroke-width="2.0" stroke-linecap="round"/>
<circle cx="1101.5" cy="500.7" r="9.0" fill="#828282" stroke="#777777" stroke-width="0.8"/>
<circle cx="1121.1" cy="522.0" r="9.0" fill="#828282" stroke="#777777" stroke-width="0.8"/>
<circle cx="1021.2" cy="523.5" r="9.0" fill="#828282" stroke="#777777" stroke-width="0.8"/>
<circle cx="1017.8" cy="533.8" r="9.0" fill="#828282" stroke="#777777" stroke-width="0.8"/>
<circle cx="1191.6" cy="524.2" r="9.0" fill="#828282" stroke="#777777" stroke-width="0.8"/>
<circle cx="1233.9" cy="553.7" r="9.0" fill="#828282" stroke="#777777" stroke-width="0.8"/>
<circle cx="1233.9" cy="557.1" r="9.0" fill="#828282" stroke="#777777" stroke-width="0.8"/>
<circle cx="1288.8" cy="565.9" r="9.0" fill="#828282" stroke="#777777" stroke-width="0.8"/>
<circle cx="1211.1" cy="573.9" r="9.0" fill="#828282" stroke="#777777" stroke-width="0.8"/>
<circle cx="1359.8" cy="588.4" r="9.0" fill="#828282" stroke="#777777" stroke-width="0.8"/>
<circle cx="1198.2" cy="588.4" r="9.0" fill="#828282" stroke="#777777" stroke-width="0.8"/>
<circle cx="1311.0" cy="623.4" r="9.0" fill="#828282" stroke="#777777" stroke-width="0.8"/>
<path d="M995.3 433.2L1382.3 622.6" stroke="#1c1c1c" stroke-width="2.1" stroke-linecap="round"/>
<circle cx="106.2" cy="25.0" r="9.0" fill="#828282" stroke="#777777" stroke-width="0.8"/>
<circle cx="106.2" cy="51.6" r="9.0" fill="#2e2e2e" stroke="#1f1f1f" stroke-width="0.8"/>
<text x="123.1" y="33.2" transform="rotate(0.03 123.1 33.2)" font-size="22.6" text-anchor="start" font-family="Liberation Sans, sans-serif" fill="#0b0b0b" >MFBR</text>
<text x="123.1" y="59.8" transform="rotate(0.03 123.1 59.8)" font-size="22.6" text-anchor="start" font-family="Liberation Sans, sans-serif" fill="#0b0b0b" >MOCE</text>
<text x="489.8" y="24.6" transform="rotate(0.03 489.8 24.6)" font-size="23.5" text-anchor="end" font-family="Liberation Sans, sans-serif" fill="#0b0b0b" >(a)</text>
<text x="940.8" y="24.6" transform="rotate(0.03 940.8 24.6)" font-size="23.5" text-anchor="end" font-family="Liberation Sans, sans-serif" fill="#0b0b0b" >(b)</text>
<text x="1389.8" y="24.6" transform="rotate(0.03 1389.8 24.6)" font-size="23.5" text-anchor="end" font-family="Liberation Sans, sans-serif" fill="#0b0b0b" >(c)</text>
<text x="489.8" y="443.9" transform="rotate(0.03 489.8 443.9)" font-size="23.5" text-anchor="end" font-family="Liberation Sans, sans-serif" fill="#0b0b0b" >(d)</text>
<text x="940.8" y="443.9" transform="rotate(0.03 940.8 443.9)" font-size="23.5" text-anchor="end" font-family="Liberation Sans, sans-serif" fill="#0b0b0b" >(e)</text>
<text x="1391.5" y="443.9" transform="rotate(0.03 1391.5 443.9)" font-size="23.5" text-anchor="end" font-family="Liberation Sans, sans-serif" fill="#0b0b0b" >(f)</text>
<text x="152.4" y="869.4" transform="rotate(0.03 152.4 869.4)" font-size="26.7" text-anchor="start" font-family="Liberation Sans, sans-serif" fill="#0b0b0b" >Mean temperature (ºC)</text>
<text x="631.5" y="869.4" transform="rotate(0.03 631.5 869.4)" font-size="26.7" text-anchor="start" font-family="Liberation Sans, sans-serif" fill="#0b0b0b" >Precipitation (mm)</text>
<text x="1056.6" y="869.4" transform="rotate(0.03 1056.6 869.4)" font-size="26.7" text-anchor="start" font-family="Liberation Sans, sans-serif" fill="#0b0b0b" >Relativite humidity (%)</text>
<text transform="translate(21.5 191.4) rotate(-89.97)" font-size="26.5" text-anchor="middle" font-family="Liberation Sans, sans-serif" fill="#0b0b0b">Species richness</text>
<text transform="translate(21.5 607.5) rotate(-89.97)" font-size="26.4" text-anchor="middle" font-family="Liberation Sans, sans-serif" fill="#0b0b0b">Abundance</text>
</svg>
</body></html>
